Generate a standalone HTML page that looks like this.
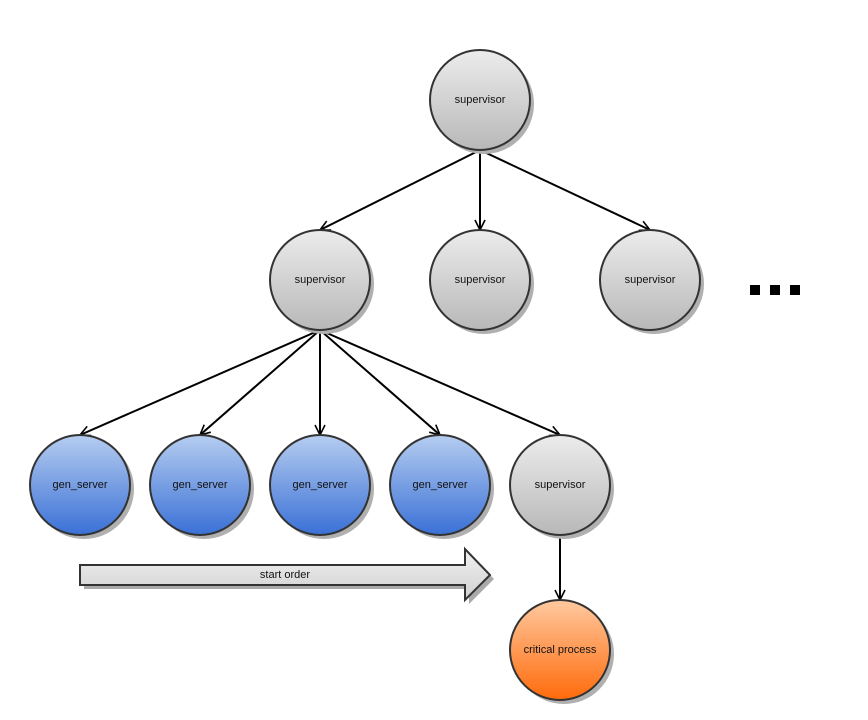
<!DOCTYPE html>
<html><head><meta charset="utf-8"><style>
html,body{margin:0;padding:0;background:#fff;}
svg{display:block;}
text{font-family:"Liberation Sans",sans-serif;font-size:11px;fill:#111;text-anchor:middle;dominant-baseline:central;}
</style></head><body>
<svg width="868" height="720" viewBox="0 0 868 720" xmlns="http://www.w3.org/2000/svg">
<defs>
<linearGradient id="g" x1="0" y1="0" x2="0" y2="1"><stop offset="0" stop-color="#ececec"/><stop offset="1" stop-color="#b8b8b8"/></linearGradient>
<linearGradient id="b" x1="0" y1="0" x2="0" y2="1"><stop offset="0" stop-color="#b5cdf0"/><stop offset="1" stop-color="#3a70d6"/></linearGradient>
<linearGradient id="o" x1="0" y1="0" x2="0" y2="1"><stop offset="0" stop-color="#ffc9a0"/><stop offset="1" stop-color="#ff6a0a"/></linearGradient>
<linearGradient id="a" x1="0" y1="0" x2="0" y2="1"><stop offset="0" stop-color="#f2f2f2"/><stop offset="1" stop-color="#cfcfcf"/></linearGradient>
<marker id="m" viewBox="0 0 12 12" refX="11" refY="6" markerWidth="12" markerHeight="12" markerUnits="userSpaceOnUse" orient="auto"><path d="M1,1 L11,6 L1,11" fill="none" stroke="#000" stroke-width="1.6"/></marker>
</defs>
<g stroke="#000" stroke-width="2" fill="none" marker-end="url(#m)">
<line x1="480" y1="150" x2="320" y2="230"/>
<line x1="480" y1="150" x2="480" y2="230"/>
<line x1="480" y1="150" x2="650" y2="230"/>
<line x1="320" y1="330" x2="80" y2="435"/>
<line x1="320" y1="330" x2="200" y2="435"/>
<line x1="320" y1="330" x2="320" y2="435"/>
<line x1="320" y1="330" x2="440" y2="435"/>
<line x1="320" y1="330" x2="560" y2="435"/>
<line x1="560" y1="535" x2="560" y2="600"/>
</g>
<!-- arrow -->
<path d="M84,569 L469,569 L469,553 L494,579 L469,604 L469,589 L84,589 Z" fill="#aaa"/>
<path d="M80,565 L465,565 L465,549 L490,575 L465,600 L465,585 L80,585 Z" fill="url(#a)" stroke="#333" stroke-width="2"/>
<text x="285" y="575">start order</text>
<g>
<circle cx="484" cy="104" r="50" fill="#b0b0b0"/><circle cx="480" cy="100" r="50" fill="url(#g)" stroke="#333" stroke-width="2"/><text x="480" y="100">supervisor</text>
<circle cx="324" cy="284" r="50" fill="#b0b0b0"/><circle cx="320" cy="280" r="50" fill="url(#g)" stroke="#333" stroke-width="2"/><text x="320" y="280">supervisor</text>
<circle cx="484" cy="284" r="50" fill="#b0b0b0"/><circle cx="480" cy="280" r="50" fill="url(#g)" stroke="#333" stroke-width="2"/><text x="480" y="280">supervisor</text>
<circle cx="654" cy="284" r="50" fill="#b0b0b0"/><circle cx="650" cy="280" r="50" fill="url(#g)" stroke="#333" stroke-width="2"/><text x="650" y="280">supervisor</text>
<circle cx="84" cy="489" r="50" fill="#b0b0b0"/><circle cx="80" cy="485" r="50" fill="url(#b)" stroke="#333" stroke-width="2"/><text x="80" y="485">gen_server</text>
<circle cx="204" cy="489" r="50" fill="#b0b0b0"/><circle cx="200" cy="485" r="50" fill="url(#b)" stroke="#333" stroke-width="2"/><text x="200" y="485">gen_server</text>
<circle cx="324" cy="489" r="50" fill="#b0b0b0"/><circle cx="320" cy="485" r="50" fill="url(#b)" stroke="#333" stroke-width="2"/><text x="320" y="485">gen_server</text>
<circle cx="444" cy="489" r="50" fill="#b0b0b0"/><circle cx="440" cy="485" r="50" fill="url(#b)" stroke="#333" stroke-width="2"/><text x="440" y="485">gen_server</text>
<circle cx="564" cy="489" r="50" fill="#b0b0b0"/><circle cx="560" cy="485" r="50" fill="url(#g)" stroke="#333" stroke-width="2"/><text x="560" y="485">supervisor</text>
<circle cx="564" cy="654" r="50" fill="#b0b0b0"/><circle cx="560" cy="650" r="50" fill="url(#o)" stroke="#333" stroke-width="2"/><text x="560" y="650">critical process</text>
</g>
<rect x="750" y="285" width="10" height="10" fill="#000"/>
<rect x="770" y="285" width="10" height="10" fill="#000"/>
<rect x="790" y="285" width="10" height="10" fill="#000"/>
</svg>
</body></html>
